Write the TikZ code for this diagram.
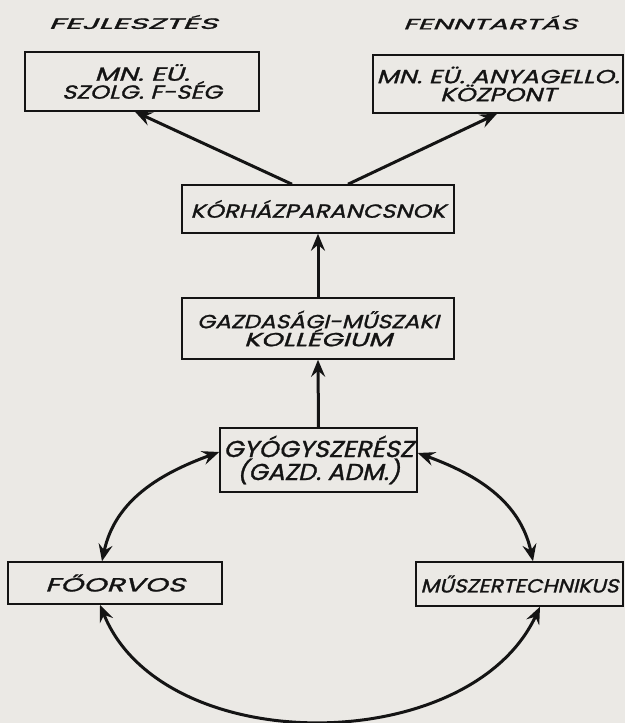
\documentclass[tikz,border=0pt]{standalone}
\usepackage{fontspec}
\usepackage{graphicx}
\usetikzlibrary{arrows.meta}
\newfontfamily\lett{Poppins}[FakeSlant=0.22,FakeBold=1.2]
\newcommand{\fw}[2]{\resizebox{#1pt}{\height}{#2}}
\definecolor{paper}{HTML}{EBE9E5}
\definecolor{ink}{HTML}{141414}
\begin{document}
\begin{tikzpicture}[x=1pt,y=1pt,
  box/.style={draw=ink, line width=1.5pt, inner sep=0pt, align=center, text=ink,
    font=\lett\fontsize{19}{18}\selectfont},
  conn/.style={draw=ink, line width=3pt, -{Stealth[length=17pt,width=14pt,inset=6pt]}},
  conntwo/.style={draw=ink, line width=3pt,
    {Stealth[length=17pt,width=14pt,inset=6pt]}-{Stealth[length=17pt,width=14pt,inset=6pt]}},
  head/.style={text=ink, inner sep=0pt, font=\lett\fontsize{15}{14}\selectfont}]
\fill[paper] (0,0) rectangle (625,723);
\useasboundingbox (0,0) rectangle (625,723);

\node[head] (fejl) at (133,701) {\fw{169}{FEJLESZTÉS}};
\node[head] (fennt) at (490,700.5) {\fw{174}{FENNTARTÁS}};

\node[box, minimum width=234pt, minimum height=59pt] (szolg) at (142,641.5)
  {\fw{95}{MN. EÜ.}\\\fw{160}{SZOLG. F-SÉG}};
\node[box, minimum width=250pt, minimum height=58pt] (anyag) at (498,639)
  {\fw{243}{MN. EÜ. ANYAGELLO.}\\\fw{116}{KÖZPONT}};
\node[box, minimum width=272pt, minimum height=48pt] (kor) at (318,514)
  {\fw{255}{KÓRHÁZPARANCSNOK}};
\node[box, minimum width=272pt, minimum height=61pt] (gaz) at (318,394.5)
  {\fw{242}{GAZDASÁGI-MŰSZAKI}\\\fw{148}{KOLLÉGIUM}};
\node[box, minimum width=197pt, minimum height=64pt, font=\lett\fontsize{23}{23}\selectfont] (gy) at (318.5,263)
  {\fw{190}{GYÓGYSZERÉSZ}\\\fw{163}{(GAZD. ADM.)}};
\node[box, minimum width=214pt, minimum height=42pt] (fo) at (115,140)
  {\fw{140}{FŐORVOS}};
\node[box, minimum width=207pt, minimum height=44pt] (mu) at (519.5,139)
  {\fw{198}{MŰSZERTECHNIKUS}};

\draw[conn] ([xshift=-26pt]kor.north) -- ([xshift=-7pt]szolg.south);
\draw[conn] ([xshift=30pt]kor.north) -- ([xshift=-1pt]anyag.south);
\draw[conn] (gaz.north) -- (kor.south);
\draw[conn] (gy.north) -- (gaz.south);
\draw[conntwo] ([xshift=-13pt]fo.north) to[out=78,in=200] ([yshift=8pt]gy.west);
\draw[conntwo] ([yshift=7pt]gy.east) to[out=-20,in=102] ([xshift=13.5pt]mu.north);
\draw[conntwo] ([xshift=-15pt]fo.south) to[out=-68,in=-115,looseness=0.97] ([xshift=20.5pt]mu.south);
\end{tikzpicture}
\end{document}
